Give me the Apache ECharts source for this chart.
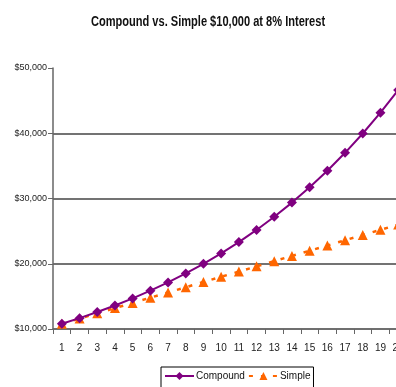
<!DOCTYPE html>
<html>
<head>
<meta charset="utf-8">
<style>
  html, body { margin: 0; padding: 0; background: #fff; }
  #chart { width: 396px; height: 387px; }
</style>
<script src="https://cdn.jsdelivr.net/npm/echarts@6/dist/echarts.min.js"></script>
</head>
<body>
<div id="chart"></div>
<script>
// Year-end balance of $10,000 invested at 8%
const years = ['1','2','3','4','5','6','7','8','9','10','11','12','13','14','15','16','17','18','19','20'];
const compound = [10800, 11664, 12597, 13605, 14693, 15869, 17138, 18509, 19990, 21589,
                  23316, 25182, 27196, 29372, 31722, 34259, 37000, 39960, 43157, 46610];
const simple = [10800, 11600, 12400, 13200, 14000, 14800, 15600, 16400, 17200, 18000,
                18800, 19600, 20400, 21200, 22000, 22800, 23600, 24400, 25200, 26000];
const titleText = 'Compound vs. Simple $10,000 at 8% Interest';

const FONT = '"Liberation Sans", Arial, sans-serif';

const chart = echarts.init(document.getElementById('chart'), null, { renderer: 'canvas' });
chart.setOption({
  animation: false,
  backgroundColor: '#ffffff',
  // condensed bold heading
  graphic: [{
    type: 'text',
    x: 208,
    y: 15,
    scaleX: 0.79,
    style: {
      text: titleText,
      font: 'bold 14px ' + FONT,
      fill: '#111',
      textAlign: 'center',
      textVerticalAlign: 'top'
    }
  }],
  grid: { left: 53, top: 68, width: 354, height: 261, containLabel: false, outerBoundsMode: 'none' },
  xAxis: {
    type: 'category',
    data: years,
    boundaryGap: true,
    axisLine: { lineStyle: { color: '#666', width: 1.5 } },
    axisTick: { show: true, alignWithLabel: false, length: 5, lineStyle: { color: '#666' } },
    axisLabel: { fontFamily: FONT, fontSize: 10, color: '#222', margin: 14, interval: 0 },
    splitLine: { show: false }
  },
  yAxis: {
    type: 'value',
    min: 10000,
    max: 50000,
    interval: 10000,
    axisLine: { show: true, lineStyle: { color: '#666', width: 1.5 } },
    axisTick: { show: true, length: 5, lineStyle: { color: '#666' } },
    axisLabel: {
      fontFamily: FONT, fontSize: 9, color: '#222', margin: 6,
      formatter: v => '$' + v.toLocaleString('en-US')
    },
    splitLine: {
      show: true,
      lineStyle: { color: ['#666', '#444', '#444', '#444', 'rgba(0,0,0,0)'], width: 1.5 }
    }
  },
  legend: {
    left: 161,
    top: 367,
    padding: [4, 3, 8, 3],
    itemGap: 3,
    itemWidth: 29,
    itemHeight: 10,
    borderColor: '#000',
    borderWidth: 1,
    borderRadius: 0,
    textStyle: { fontFamily: FONT, fontSize: 10, color: '#111', padding: [0, 0, 0, -3] },
    data: ['Compound', 'Simple']
  },
  series: [
    {
      name: 'Compound',
      type: 'line',
      data: compound,
      symbol: 'diamond',
      symbolSize: 10,
      color: '#800080',
      lineStyle: { color: '#800080', width: 2 },
      itemStyle: { color: '#800080' },
      z: 3
    },
    {
      name: 'Simple',
      type: 'line',
      data: simple,
      symbol: 'triangle',
      symbolSize: 10,
      color: '#ff6600',
      lineStyle: { color: '#ff6600', width: 2.5, type: [4, 8] },
      itemStyle: { color: '#ff6600' },
      z: 2
    }
  ]
});
</script>
</body>
</html>
